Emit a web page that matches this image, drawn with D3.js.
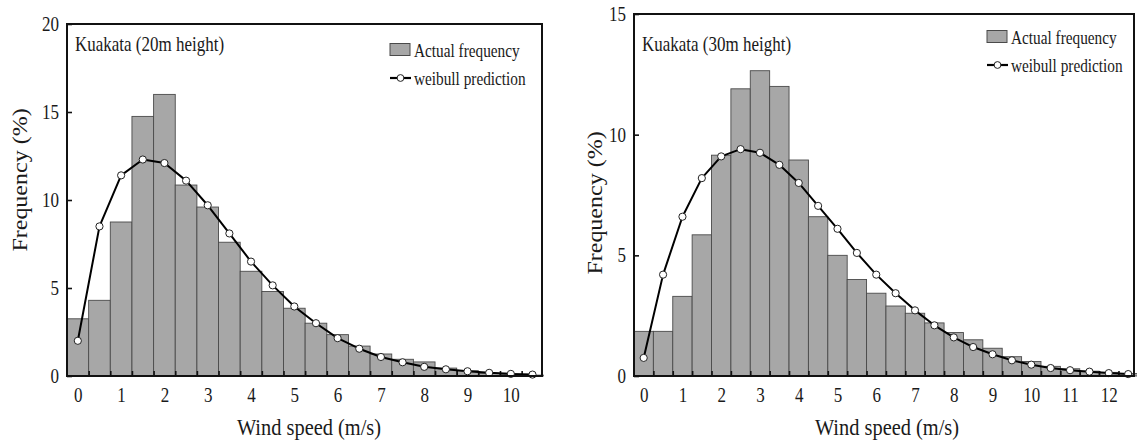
<!DOCTYPE html>
<html>
<head>
<meta charset="utf-8">
<script src="https://cdn.jsdelivr.net/npm/d3@7"></script>
<style>
  html, body { margin: 0; padding: 0; background: #fff; }
  svg { display: block; }
  text { font-family: "Liberation Serif", "Times New Roman", serif; fill: #1a1a1a; }
</style>
</head>
<body>
<svg id="chart" width="1137" height="440"></svg>
<script>
// ---------- DATA ----------
// Left panel: Kuakata 20m (bins centred every 0.5 m/s)
const speeds20 = [0,0.5,1,1.5,2,2.5,3,3.5,4,4.5,5,5.5,6,6.5,7,7.5,8,8.5,9,9.5,10,10.5];
const actual20 = [3.25,4.3,8.75,14.75,16.0,10.85,9.6,7.6,5.95,4.8,3.85,3.0,2.35,1.7,1.25,0.95,0.8,0.45,0.3,0.15,0.1,0.05];
const weibull20 = [2.0,8.5,11.4,12.3,12.1,11.1,9.7,8.1,6.5,5.15,3.95,3.0,2.15,1.55,1.08,0.78,0.52,0.38,0.27,0.18,0.12,0.08];
const xTicks20 = [0,1,2,3,4,5,6,7,8,9,10];
const yTicks20 = [0,5,10,15,20];

// Right panel: Kuakata 30m
const speeds30 = [0,0.5,1,1.5,2,2.5,3,3.5,4,4.5,5,5.5,6,6.5,7,7.5,8,8.5,9,9.5,10,10.5,11,11.5,12,12.5];
const actual30 = [1.85,1.85,3.3,5.85,9.15,11.9,12.65,12.0,8.95,6.6,5.0,4.0,3.43,2.9,2.6,2.2,1.8,1.5,1.15,0.8,0.6,0.4,0.3,0.2,0.15,0.1];
const weibull30 = [0.75,4.2,6.6,8.2,9.1,9.4,9.25,8.75,8.0,7.05,6.1,5.1,4.2,3.43,2.72,2.1,1.6,1.2,0.9,0.65,0.47,0.33,0.24,0.18,0.12,0.08];
const xTicks30 = [0,1,2,3,4,5,6,7,8,9,10,11,12];
const yTicks30 = [0,5,10,15];

const titles = ["Kuakata (20m height)", "Kuakata (30m height)"];
const legendLabels = ["Actual frequency", "weibull prediction"];
const xTitle = "Wind speed (m/s)";
const yTitle = "Frequency (%)";

// ---------- DRAW ----------
const svg = d3.select("#chart");
const SX = 0.85; // horizontal squeeze of the original figure's text

function sText(g, x, y, str, size, anchor) {
  g.append("g").attr("transform", `translate(${x},${y}) scale(${SX},1)`)
    .append("text").attr("font-size", size).attr("text-anchor", anchor || "start").text(str);
}

function panel(cfg) {
  const g = svg.append("g");
  const x = d3.scaleLinear().domain(cfg.xDomain).range([cfg.left, cfg.right]);
  const y = d3.scaleLinear().domain(cfg.yDomain).range([cfg.bottom, cfg.top]);
  const half = 0.25;

  // bars
  g.append("g").selectAll("rect").data(cfg.speeds).join("rect")
    .attr("x", (d) => x(d - half))
    .attr("width", (d) => x(d + half) - x(d - half))
    .attr("y", (d, i) => y(cfg.actual[i]))
    .attr("height", (d, i) => y(0) - y(cfg.actual[i]))
    .attr("fill", "#a7a7a7").attr("stroke", "#4a4a4a").attr("stroke-width", 0.9);

  // y axis (inward ticks)
  const yAx = g.append("g").attr("transform", `translate(${cfg.left},0)`)
    .call(d3.axisLeft(y).tickValues(cfg.yTicks).tickSizeInner(-5).tickSizeOuter(0).tickPadding(9.5));
  yAx.select(".domain").remove();
  yAx.selectAll("line").attr("stroke", "#111").attr("stroke-width", 1.6);
  yAx.selectAll("text").attr("font-size", 20).attr("font-family", "Liberation Serif")
    .attr("fill", "#1a1a1a").attr("transform", `scale(${SX},1)`);

  // x tick marks at bin boundaries (inward)
  const bounds = cfg.speeds.slice(0, -1).map((d) => d + half);
  const xTk = g.append("g").attr("transform", `translate(0,${cfg.bottom})`)
    .call(d3.axisBottom(x).tickValues(bounds).tickSizeInner(-5).tickSizeOuter(0).tickFormat(""));
  xTk.select(".domain").remove();
  xTk.selectAll("line").attr("stroke", "#111").attr("stroke-width", 1.6);

  // x labels
  const xLb = g.append("g").attr("transform", `translate(0,${cfg.bottom})`)
    .call(d3.axisBottom(x).tickValues(cfg.xTicks).tickSize(0).tickPadding(12).tickFormat(d3.format("d")));
  xLb.select(".domain").remove();
  xLb.selectAll("text").attr("font-size", 20).attr("font-family", "Liberation Serif")
    .attr("fill", "#1a1a1a").attr("transform", `scale(${SX},1)`);

  // weibull line
  const line = d3.line().x((d) => x(d)).y((d, i) => y(cfg.weibull[i]));
  g.append("path").datum(cfg.speeds).attr("d", line)
    .attr("fill", "none").attr("stroke", "#000").attr("stroke-width", 2).attr("stroke-linejoin", "round");
  g.append("g").selectAll("circle").data(cfg.speeds).join("circle")
    .attr("cx", (d) => x(d)).attr("cy", (d, i) => y(cfg.weibull[i])).attr("r", 3.6)
    .attr("fill", "#fff").attr("stroke", "#222").attr("stroke-width", 1);

  // frame
  g.append("rect").attr("x", cfg.left).attr("y", cfg.top)
    .attr("width", cfg.right - cfg.left).attr("height", cfg.bottom - cfg.top)
    .attr("fill", "none").attr("stroke", "#111").attr("stroke-width", 2);

  // title
  sText(g, cfg.left + 8, 50.5, cfg.title, 20, "start");

  // legend
  const L = cfg.legend;
  g.append("rect").attr("x", L.x).attr("y", L.y).attr("width", 20).attr("height", 12)
    .attr("fill", "#a7a7a7").attr("stroke", "#4a4a4a").attr("stroke-width", 1);
  sText(g, L.x + 24, L.y + 13, legendLabels[0], 18, "start");
  const ly = L.y + 34.5;
  g.append("line").attr("x1", L.x).attr("x2", L.x + 21).attr("y1", ly).attr("y2", ly)
    .attr("stroke", "#000").attr("stroke-width", 2.2);
  g.append("circle").attr("cx", L.x + 10.5).attr("cy", ly).attr("r", 3.4)
    .attr("fill", "#fff").attr("stroke", "#222").attr("stroke-width", 1);
  sText(g, L.x + 24, L.y + 41, legendLabels[1], 18, "start");

  // axis titles
  sText(g, cfg.xTitleX, 435, xTitle, 24, "middle");
  g.append("g").attr("transform", `translate(${cfg.yTitleX},${cfg.yTitleY}) scale(${SX},1) rotate(-90)`)
    .append("text").attr("font-size", 24).attr("text-anchor", "middle").text(yTitle);
}

panel({
  speeds: speeds20, actual: actual20, weibull: weibull20,
  xTicks: xTicks20, yTicks: yTicks20,
  xDomain: [-0.25, 10.72], yDomain: [0, 20],
  left: 67, right: 542, top: 24, bottom: 376,
  title: titles[0], legend: { x: 390, y: 43.5 },
  xTitleX: 309, yTitleX: 27, yTitleY: 180
});

panel({
  speeds: speeds30, actual: actual30, weibull: weibull30,
  xTicks: xTicks30, yTicks: yTicks30,
  xDomain: [-0.25, 12.65], yDomain: [0, 15],
  left: 634, right: 1134, top: 14, bottom: 376,
  title: titles[1], legend: { x: 987, y: 30.5 },
  xTitleX: 887, yTitleX: 602, yTitleY: 203
});
</script>
</body>
</html>
